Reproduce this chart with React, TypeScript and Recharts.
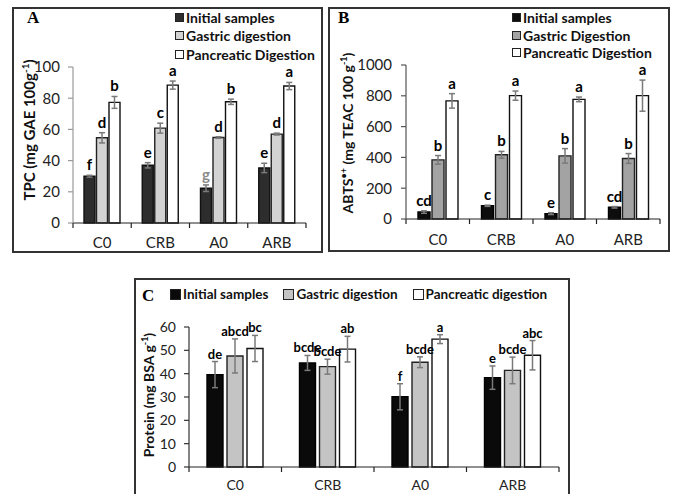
import React from 'react';
import { BarChart, Bar, XAxis, YAxis, ErrorBar, LabelList } from 'recharts';

const categories = ['C0', 'CRB', 'A0', 'ARB'];

// A - TPC (mg GAE 100g-1)
const tpcInitial = [30, 37, 22.3, 35.3];
const tpcInitialErr = [0.6, 1.7, 2.1, 3];
const tpcInitialLetters = ['f', 'e', 'g', 'e'];
const tpcGastric = [54.6, 60.8, 54.8, 57];
const tpcGastricErr = [3.3, 3.2, 0.5, 0.6];
const tpcGastricLetters = ['d', 'c', 'd', 'd'];
const tpcPancreatic = [77.3, 88.4, 77.7, 87.8];
const tpcPancreaticErr = [3.8, 2.6, 1.7, 2.3];
const tpcPancreaticLetters = ['b', 'a', 'b', 'a'];
const tpcTicks = [0, 20, 40, 60, 80, 100];

// B - ABTS (mg TEAC 100 g-1)
const abtsInitial = [45, 86, 35, 76];
const abtsInitialErr = [8, 4, 6, 5];
const abtsInitialLetters = ['cd', 'c', 'e', 'cd'];
const abtsGastric = [384, 417, 410, 393];
const abtsGastricErr = [28, 22, 47, 32];
const abtsGastricLetters = ['b', 'b', 'b', 'b'];
const abtsPancreatic = [767, 801, 777, 801];
const abtsPancreaticErr = [47, 30, 15, 101];
const abtsPancreaticLetters = ['a', 'a', 'a', 'a'];
const abtsTicks = [0, 200, 400, 600, 800, 1000];

// C - Protein (mg BSA g-1)
const proteinInitial = [39.6, 44.6, 30.1, 38.3];
const proteinInitialErr = [5.6, 3.2, 5.6, 5];
const proteinInitialLetters = ['de', 'bcde', 'f', 'e'];
const proteinGastric = [47.6, 43, 44.9, 41.4];
const proteinGastricErr = [7.3, 3.2, 2.3, 5.7];
const proteinGastricLetters = ['abcd', 'bcde', 'bcde', 'bcde'];
const proteinPancreatic = [50.8, 50.5, 54.8, 47.9];
const proteinPancreaticErr = [5.6, 5.5, 1.9, 6.3];
const proteinPancreaticLetters = ['bc', 'ab', 'a', 'abc'];
const proteinTicks = [0, 10, 20, 30, 40, 50, 60];

const FONT = 'Lato, "Open Sans", sans-serif';

type SeriesData = { key: string; values: number[]; errors: number[]; letters: string[] };

const makeRows = (series: SeriesData[]) =>
  categories.map((name, i) => {
    const row: any = { name };
    series.forEach(s => {
      row[s.key] = s.values[i];
      row[s.key + 'Err'] = s.errors[i];
      row[s.key + 'Letter'] = s.letters[i];
    });
    return row;
  });

const tpcRows = makeRows([
  { key: 'initial', values: tpcInitial, errors: tpcInitialErr, letters: tpcInitialLetters },
  { key: 'gastric', values: tpcGastric, errors: tpcGastricErr, letters: tpcGastricLetters },
  { key: 'pancreatic', values: tpcPancreatic, errors: tpcPancreaticErr, letters: tpcPancreaticLetters },
]);
const abtsRows = makeRows([
  { key: 'initial', values: abtsInitial, errors: abtsInitialErr, letters: abtsInitialLetters },
  { key: 'gastric', values: abtsGastric, errors: abtsGastricErr, letters: abtsGastricLetters },
  { key: 'pancreatic', values: abtsPancreatic, errors: abtsPancreaticErr, letters: abtsPancreaticLetters },
]);
const proteinRows = makeRows([
  { key: 'initial', values: proteinInitial, errors: proteinInitialErr, letters: proteinInitialLetters },
  { key: 'gastric', values: proteinGastric, errors: proteinGastricErr, letters: proteinGastricLetters },
  { key: 'pancreatic', values: proteinPancreatic, errors: proteinPancreaticErr, letters: proteinPancreaticLetters },
]);

// letter sits just above the top of the error bar
const letterLabel = (rows: any[], key: string, fontSize: number, gap: number, muted?: string) => (props: any) => {
  const vb = props.viewBox || props;
  const x = Number(vb.x ?? props.x);
  const y = Number(vb.y ?? props.y);
  const w = Number(vb.width ?? props.width);
  const h = Number(vb.height ?? props.height);
  const row = rows[props.index];
  if (!row) return null;
  const pxPerUnit = h / row[key];
  const top = y - row[key + 'Err'] * pxPerUnit;
  return (
    <text x={x + w / 2} y={top - gap} textAnchor="middle" fontSize={fontSize} fontWeight={700}
      fontFamily={FONT} fill={muted && props.value === muted ? '#8a8a8a' : '#000'}>
      {props.value}
    </text>
  );
};

const CategoryTick = (props: any) => {
  const { x, y, payload, index, half, count, fontSize, dy, stroke } = props;
  return (
    <g>
      <line x1={x - half} y1={y} x2={x - half} y2={y + 5} stroke={stroke} strokeWidth={1.2} />
      {index === count - 1 && <line x1={x + half} y1={y} x2={x + half} y2={y + 5} stroke={stroke} strokeWidth={1.2} />}
      <text x={x} y={y + dy} textAnchor="middle" fontSize={fontSize} fontFamily={FONT} fill="#222">{payload.value}</text>
    </g>
  );
};

type SeriesStyle = { key: string; name: string; fill: string; stroke: string };

interface PanelProps {
  rows: any[];
  ticks: number[];
  left: number;
  top: number;
  width: number;
  height: number;
  plot: { left: number; right: number; top: number; bottom: number };
  barSize: number;
  barGap: number;
  series: SeriesStyle[];
  yAxisStroke: string;
  xAxisStroke: string;
  tickFontSize: number;
  tickMargin: number;
  xLabelDy: number;
  letterSize: number;
  letterGap: number;
  muted?: string;
}

const Panel: React.FC<PanelProps> = p => {
  const yAxisWidth = 45;
  const xAxisHeight = 24;
  const half = (p.width - p.plot.left - p.plot.right) / categories.length / 2;
  return (
    <div style={{ position: 'absolute', left: p.left, top: p.top }}>
      <BarChart
        width={p.width}
        height={p.height}
        data={p.rows}
        barSize={p.barSize}
        barGap={p.barGap}
        margin={{ top: p.plot.top, right: p.plot.right, left: p.plot.left - yAxisWidth, bottom: p.plot.bottom - xAxisHeight }}
      >
        <XAxis
          dataKey="name"
          height={xAxisHeight}
          axisLine={{ stroke: p.xAxisStroke, strokeWidth: 1.2 }}
          tickLine={false}
          tickSize={0}
          tickMargin={0}
          interval={0}
          tick={(t: any) => (
            <CategoryTick {...t} half={half} count={categories.length} fontSize={p.tickFontSize} dy={p.xLabelDy} stroke={p.xAxisStroke} />
          )}
        />
        <YAxis
          width={yAxisWidth}
          domain={[p.ticks[0], p.ticks[p.ticks.length - 1]]}
          ticks={p.ticks}
          interval={0}
          axisLine={{ stroke: p.yAxisStroke, strokeWidth: 1.2 }}
          tickLine={{ stroke: p.yAxisStroke, strokeWidth: 1.2 }}
          tickSize={5}
          tickMargin={p.tickMargin}
          tick={{ fill: '#222', fontSize: p.tickFontSize, fontFamily: FONT }}
        />
        {p.series.map(s => (
          <Bar key={s.key} dataKey={s.key} name={s.name} fill={s.fill} stroke={s.stroke} strokeWidth={1.4} isAnimationActive={false}>
            <ErrorBar dataKey={s.key + 'Err'} width={3} stroke="#7a7a7a" strokeWidth={1.5} isAnimationActive={false} />
            <LabelList dataKey={s.key + 'Letter'} content={letterLabel(p.rows, s.key, p.letterSize, p.letterGap, p.muted)} />
          </Bar>
        ))}
      </BarChart>
    </div>
  );
};

const Swatch = ({ fill, size }: { fill: string; size: number }) => (
  <span style={{ display: 'inline-block', width: size, height: size, background: fill, border: '1px solid #222', marginRight: 2, flexShrink: 0 }} />
);

const VerticalLegend = ({ series, left, top, fontSize, rowHeight }: any) => (
  <div style={{ position: 'absolute', left, top, fontFamily: FONT, fontSize, fontWeight: 700, color: '#111' }}>
    {series.map((s: SeriesStyle) => (
      <div key={s.key} style={{ display: 'flex', alignItems: 'center', height: rowHeight, whiteSpace: 'nowrap' }}>
        <Swatch fill={s.fill} size={7} />
        {s.name}
      </div>
    ))}
  </div>
);

const Frame = ({ left, top, width, height }: any) => (
  <div style={{ position: 'absolute', left, top, width, height, boxSizing: 'border-box', border: '2px solid #333' }} />
);

const YTitle = ({ x, y, fontSize, children }: any) => (
  <div style={{
    position: 'absolute', left: x, top: y, transform: 'translate(-50%, -50%) rotate(-90deg)',
    whiteSpace: 'nowrap', fontFamily: FONT, fontWeight: 700, fontSize, color: '#111',
  }}>
    {children}
  </div>
);

const PanelLetter = ({ x, y, children }: any) => (
  <div style={{ position: 'absolute', left: x, top: y, fontFamily: '"Liberation Serif", "Times New Roman", serif', fontWeight: 700, fontSize: 17 }}>
    {children}
  </div>
);

const tpcSeries: SeriesStyle[] = [
  { key: 'initial', name: 'Initial samples', fill: '#2d2d2d', stroke: '#111' },
  { key: 'gastric', name: 'Gastric digestion', fill: '#d3d3d3', stroke: '#222' },
  { key: 'pancreatic', name: 'Pancreatic Digestion', fill: '#ffffff', stroke: '#111' },
];
const abtsSeries: SeriesStyle[] = [
  { key: 'initial', name: 'Initial samples', fill: '#0d0d0d', stroke: '#000' },
  { key: 'gastric', name: 'Gastric Digestion', fill: '#a3a3a3', stroke: '#222' },
  { key: 'pancreatic', name: 'Pancreatic Digestion', fill: '#ffffff', stroke: '#111' },
];
const proteinSeries: SeriesStyle[] = [
  { key: 'initial', name: 'Initial samples', fill: '#0a0a0a', stroke: '#000' },
  { key: 'gastric', name: 'Gastric digestion', fill: '#c4c4c4', stroke: '#222' },
  { key: 'pancreatic', name: 'Pancreatic digestion', fill: '#ffffff', stroke: '#111' },
];

export default function App() {
  return (
    <div style={{ position: 'absolute', left: 0, top: 0, width: 675, height: 494, overflow: 'hidden', background: '#fff' }}>
      {/* Panel A */}
      <Frame left={12} top={7} width={311} height={246} />
      <PanelLetter x={27} y={8}>A</PanelLetter>
      <VerticalLegend series={tpcSeries} left={175} top={8} fontSize={14} rowHeight={18.5} />
      <YTitle x={28} y={130} fontSize={15}>TPC (mg GAE 100g<sup style={{ fontSize: 10 }}>-1</sup>)</YTitle>
      <Panel
        rows={tpcRows} ticks={tpcTicks} left={12} top={7} width={311} height={246}
        plot={{ left: 61, right: 17, top: 60, bottom: 30 }}
        barSize={11} barGap={1.5} series={tpcSeries}
        yAxisStroke="#999" xAxisStroke="#222" tickFontSize={15} tickMargin={8} xLabelDy={25}
        letterSize={15} letterGap={5} muted="g"
      />

      {/* Panel B */}
      <Frame left={328} top={7} width={342} height={245} />
      <PanelLetter x={338} y={8}>B</PanelLetter>
      <VerticalLegend series={abtsSeries} left={512} top={9} fontSize={14} rowHeight={17.5} />
      <YTitle x={347} y={133} fontSize={14}>ABTS<sup style={{ fontSize: 9 }}>•+</sup> (mg TEAC 100 g<sup style={{ fontSize: 9 }}>-1</sup>)</YTitle>
      <Panel
        rows={abtsRows} ticks={abtsTicks} left={328} top={7} width={342} height={245}
        plot={{ left: 78, right: 10, top: 58, bottom: 33 }}
        barSize={12} barGap={2} series={abtsSeries}
        yAxisStroke="#555" xAxisStroke="#222" tickFontSize={15} tickMargin={9} xLabelDy={26}
        letterSize={15} letterGap={5}
      />

      {/* Panel C */}
      <Frame left={134} top={278} width={436} height={230} />
      <PanelLetter x={142} y={286}>C</PanelLetter>
      <div style={{ position: 'absolute', left: 170, top: 286, display: 'flex', gap: 15, fontFamily: FONT, fontSize: 13.5, fontWeight: 700, color: '#111' }}>
        {proteinSeries.map(s => (
          <div key={s.key} style={{ display: 'flex', alignItems: 'center', whiteSpace: 'nowrap' }}>
            <Swatch fill={s.fill} size={9} />
            {s.name}
          </div>
        ))}
      </div>
      <YTitle x={148} y={395} fontSize={14}>Protein (mg BSA g<sup style={{ fontSize: 9 }}>-1</sup>)</YTitle>
      <Panel
        rows={proteinRows} ticks={proteinTicks} left={134} top={278} width={436} height={216}
        plot={{ left: 55, right: 11, top: 49, bottom: 27 }}
        barSize={16} barGap={4} series={proteinSeries}
        yAxisStroke="#333" xAxisStroke="#222" tickFontSize={14} tickMargin={8} xLabelDy={23}
        letterSize={13} letterGap={3}
      />
    </div>
  );
}
